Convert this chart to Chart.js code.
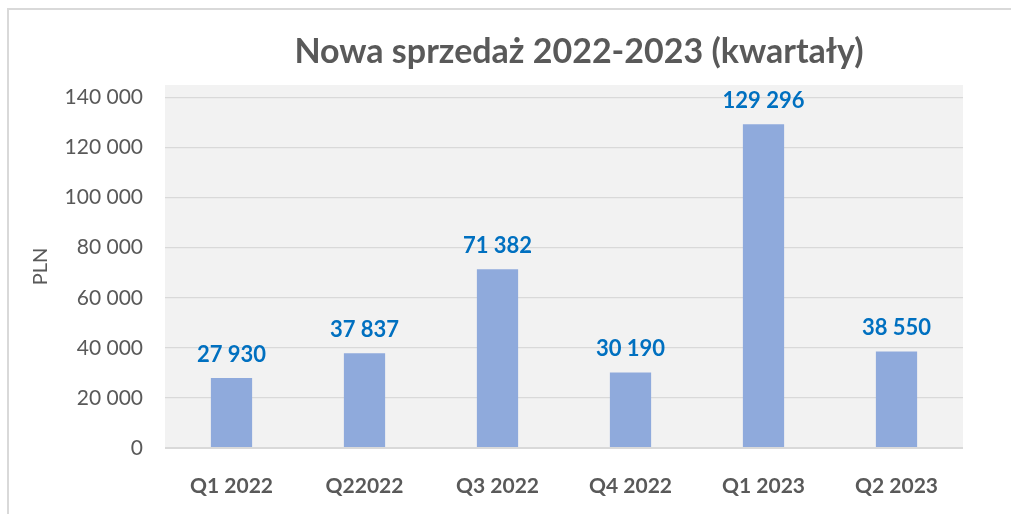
<!DOCTYPE html>
<html>
<head>
<meta charset="utf-8">
<script src="https://cdn.jsdelivr.net/npm/chart.js@4"></script>
<style>
  html, body { margin: 0; padding: 0; background: #fff; overflow: hidden; }
  #frame { position: absolute; left: 7px; top: 8px; width: 1020px; height: 520px; border: 2px solid #d9d9d9; box-sizing: border-box; }
  #wrap { position: absolute; left: 0; top: 0; width: 1011px; height: 514px; }
</style>
</head>
<body>
<div id="frame"></div>
<div id="wrap"><canvas id="chart"></canvas></div>
<script>
const categories = ['Q1 2022', 'Q22022', 'Q3 2022', 'Q4 2022', 'Q1 2023', 'Q2 2023'];
const sales = [27930, 37837, 71382, 30190, 129296, 38550];
const yTicks = [0, 20000, 40000, 60000, 80000, 100000, 120000, 140000];

const FONT = 'Lato, "Open Sans", sans-serif';
const GRAY = '#595959';

const fmt = function(v) {
  return String(v).replace(/\B(?=(\d{3})+(?!\d))/g, ' ');
};

// szare tło obszaru wykresu
const plotBg = {
  id: 'plotBg',
  beforeDraw(chart) {
    const a = chart.chartArea;
    const c = chart.ctx;
    c.save();
    c.fillStyle = '#f2f2f2';
    c.fillRect(a.left, a.top, a.right - a.left, a.bottom - a.top);
    c.restore();
  }
};

// etykiety wartości nad słupkami
const valueLabels = {
  id: 'valueLabels',
  afterDatasetsDraw(chart) {
    const c = chart.ctx;
    c.save();
    c.font = 'bold 22px ' + FONT;
    c.fillStyle = '#0070c0';
    c.textAlign = 'center';
    c.textBaseline = 'alphabetic';
    chart.getDatasetMeta(0).data.forEach((bar, i) => {
      c.fillText(fmt(sales[i]), bar.x, bar.y - 16);
    });
    c.restore();
  }
};

// tytuł wyśrodkowany nieco na prawo od środka
const mainTitle = {
  id: 'mainTitle',
  afterDraw(chart) {
    const a = chart.chartArea;
    const c = chart.ctx;
    c.save();
    c.font = 'bold 34px ' + FONT;
    c.fillStyle = GRAY;
    c.textAlign = 'center';
    c.textBaseline = 'alphabetic';
    c.fillText('Nowa sprzedaż 2022-2023 (kwartały)', (a.left + a.right) / 2 + 15, 63);
    c.restore();
  }
};

new Chart(document.getElementById('chart'), {
  type: 'bar',
  data: {
    labels: categories,
    datasets: [{
      data: sales,
      backgroundColor: '#8faadc',
      barPercentage: 0.31,
      categoryPercentage: 1
    }]
  },
  options: {
    responsive: true,
    maintainAspectRatio: false,
    animation: false,
    layout: { padding: { top: 85, right: 48, left: 0, bottom: 0 } },
    plugins: {
      legend: { display: false },
      tooltip: { enabled: false }
    },
    scales: {
      x: {
        grid: { display: false },
        border: { display: false },
        ticks: { color: GRAY, font: { family: FONT, size: 21, weight: 'bold' }, padding: 18 },
        afterFit: (s) => { s.height = 66; }
      },
      y: {
        min: 0,
        max: 145000,
        afterBuildTicks: (s) => { s.ticks = yTicks.map(v => ({ value: v })); },
        grid: {
          color: '#d9d9d9',
          lineWidth: (ctx) => ctx.tick && ctx.tick.value === 0 ? 2 : 1.3,
          drawTicks: false
        },
        border: { display: false },
        ticks: {
          color: GRAY,
          font: { family: FONT, size: 21 },
          padding: 22,
          callback: (v) => fmt(v)
        },
        title: {
          display: true,
          text: 'PLN',
          color: GRAY,
          font: { family: FONT, size: 20 },
          padding: { top: 29, bottom: 0 }
        },
        afterFit: (s) => { s.width = 165; }
      }
    }
  },
  plugins: [plotBg, valueLabels, mainTitle]
});
</script>
</body>
</html>
